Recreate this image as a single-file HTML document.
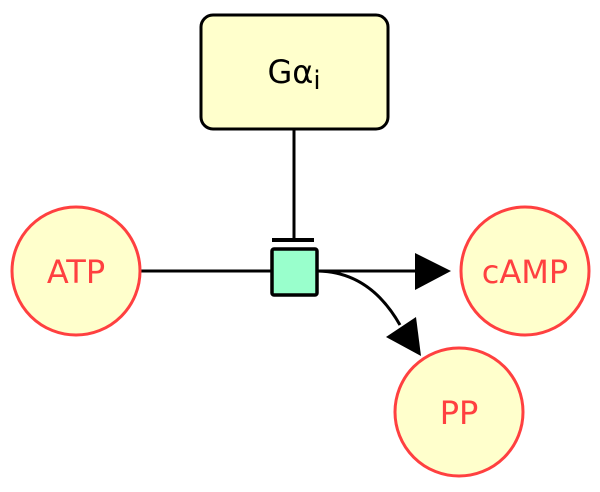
<!DOCTYPE html>
<html><head><meta charset="utf-8"><style>
html,body{margin:0;padding:0;background:#fff;width:600px;height:492px;overflow:hidden}
svg{display:block}
text{font-family:"DejaVu Sans","Liberation Sans",sans-serif}
</style></head><body>
<svg width="600" height="492" viewBox="0 0 600 492" xmlns="http://www.w3.org/2000/svg">
<rect x="201" y="15" width="187" height="114" rx="12" fill="#ffffcc" stroke="#000" stroke-width="3"/>
<text x="294" y="83" font-size="32" text-anchor="middle">Gα<tspan font-size="26" dy="6">i</tspan></text>
<line x1="294" y1="129" x2="294" y2="240" stroke="#000" stroke-width="3"/>
<line x1="272" y1="240" x2="314" y2="240" stroke="#000" stroke-width="4"/>
<line x1="141" y1="271" x2="272" y2="271" stroke="#000" stroke-width="3"/>
<line x1="318" y1="271" x2="418" y2="271" stroke="#000" stroke-width="3"/>
<polygon points="415,253 451,271 415,290" fill="#000"/>
<path d="M318 271 Q370 272 400 325" fill="none" stroke="#000" stroke-width="3"/>
<polygon points="386,337 416,317 421,356" fill="#000"/>
<rect x="272" y="249" width="45" height="46" rx="2" fill="#99ffcc" stroke="#000" stroke-width="3.5"/>
<circle cx="76" cy="271" r="64" fill="#ffffcc" stroke="#ff4040" stroke-width="3"/>
<circle cx="525" cy="271" r="64" fill="#ffffcc" stroke="#ff4040" stroke-width="3"/>
<circle cx="459" cy="412" r="64" fill="#ffffcc" stroke="#ff4040" stroke-width="3"/>
<text x="76" y="283" font-size="32" fill="#ff4040" text-anchor="middle">ATP</text>
<text x="525" y="283" font-size="32" fill="#ff4040" text-anchor="middle">cAMP</text>
<text x="459" y="424" font-size="32" fill="#ff4040" text-anchor="middle">PP</text>
</svg>
</body></html>
